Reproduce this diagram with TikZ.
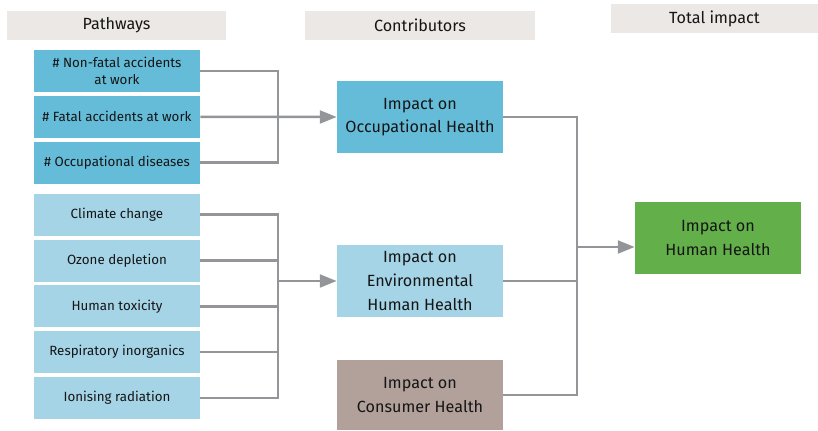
\documentclass[tikz,border=0pt]{standalone}
\usepackage{fontspec}
\setmainfont{Fira Sans}
\usetikzlibrary{arrows.meta, positioning, calc}

\definecolor{occblue}{HTML}{65BCD9}
\definecolor{envblue}{HTML}{A4D4E6}
\definecolor{conbrown}{HTML}{B2A19A}
\definecolor{hhgreen}{HTML}{63B04A}
\definecolor{headgray}{HTML}{ECE8E5}
\definecolor{linegray}{HTML}{939598}
\definecolor{inkgray}{HTML}{151515}

\begin{document}
\begin{tikzpicture}[
    x=0.025cm, y=-0.025cm,
    node distance=0.08cm and 1cm,
    every node/.style={font=\fontsize{9.5}{12}\selectfont, text=inkgray, align=center, inner sep=0pt},
    header/.style={rectangle, fill=headgray, minimum height=0.725cm, font=\fontsize{11.5}{13}\selectfont},
    pathway/.style={rectangle, minimum width=4.15cm, minimum height=1.05cm},
    contrib/.style={rectangle, minimum width=4.15cm, minimum height=1.8cm, font=\fontsize{11.5}{16.8}\selectfont},
    link/.style={draw=linegray, line width=1.8pt},
    arrow/.style={link, -{Triangle[length=0.42cm, width=0.32cm]}}
]
    \useasboundingbox (0,0) rectangle (818,430);

    % column headers
    \node[header, minimum width=5.475cm] (hpath) at (116.5,25.5) {Pathways};
    \node[header, minimum width=5.75cm] (hcontrib) at (420,25.5) {Contributors};
    \node[header, minimum width=5.175cm] (htotal) at (714.5,18.5) {Total impact};

    % pathways
    \node[pathway, fill=occblue] (nonfatal) at (117,71) {\# Non-fatal accidents\\at work};
    \node[pathway, fill=occblue, below=of nonfatal] (fatal) {\# Fatal accidents at work};
    \node[pathway, fill=occblue, below=of fatal] (occdis) {\# Occupational diseases};
    \node[pathway, fill=envblue, below=0.24cm of occdis] (climate) {Climate change};
    \node[pathway, fill=envblue, below=of climate] (ozone) {Ozone depletion};
    \node[pathway, fill=envblue, below=of ozone] (toxicity) {Human toxicity};
    \node[pathway, fill=envblue, below=of toxicity] (respiratory) {Respiratory inorganics};
    \node[pathway, fill=envblue, below=of respiratory] (ionising) {Ionising radiation};

    % contributors and total
    \node[contrib, fill=occblue] (occhealth) at (420,117) {Impact on\\Occupational Health};
    \node[contrib, fill=envblue] (envhealth) at (420,281) {Impact on\\Environmental\\Human Health};
    \node[contrib, fill=conbrown, minimum height=1.75cm] (conhealth) at (420,395) {Impact on\\Consumer Health};
    \node[contrib, fill=hhgreen] (humanhealth) at (718,238) {Impact on\\Human Health};

    \coordinate (jocc) at (278,117);
    \coordinate (jenv) at (278,281);
    \coordinate (jtot) at (577,247);

    % occupational bracket
    \draw[link] (nonfatal.east) -| (occdis.east -| jocc) -- (occdis.east);
    \draw[arrow] (fatal.east) -- (occhealth.west);

    % environmental bracket
    \draw[link] (climate.east) -| (ionising.east -| jenv) -- (ionising.east);
    \foreach \p in {ozone, toxicity, respiratory}
        \draw[link] (\p.east) -- (\p.east -| jenv);
    \draw[arrow] (jenv) -- (envhealth.west);

    % total bracket
    \draw[link] (occhealth.east) -| (conhealth.east -| jtot) -- (conhealth.east);
    \draw[link] (envhealth.east) -- (envhealth.east -| jtot);
    \draw[arrow] (jtot) -- (jtot -| humanhealth.west);
\end{tikzpicture}
\end{document}
